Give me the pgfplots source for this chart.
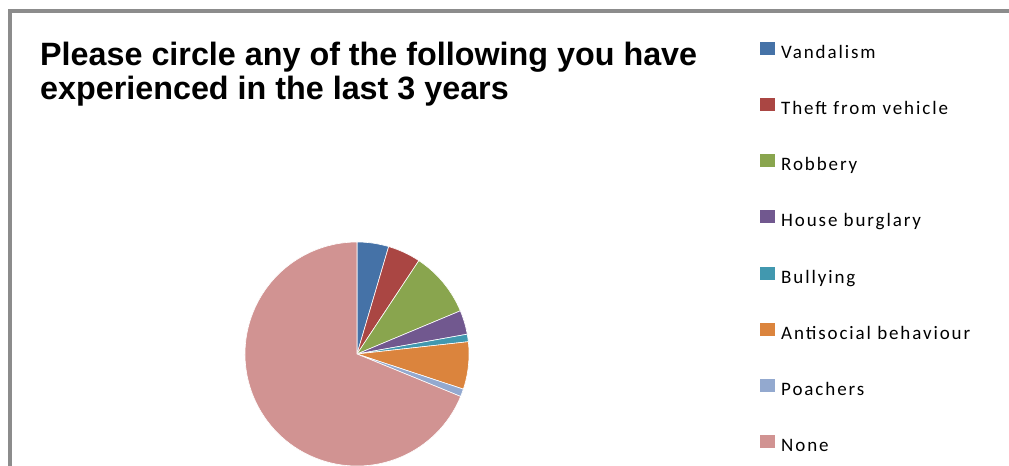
\documentclass[border=0pt]{standalone}
\usepackage{pgfplots}
\usepackage{pgfplotstable}
\pgfplotsset{compat=1.18}
\usepackage{fontspec}
\setmainfont{Liberation Sans}
\newfontfamily\legfont[LetterSpace=10]{Carlito}

\definecolor{cvan}{HTML}{4572A7}
\definecolor{ctheft}{HTML}{AA4643}
\definecolor{crob}{HTML}{89A54E}
\definecolor{chouse}{HTML}{71588F}
\definecolor{cbully}{HTML}{4198AF}
\definecolor{canti}{HTML}{DB843D}
\definecolor{cpoach}{HTML}{93A9CF}
\definecolor{cnone}{HTML}{D19392}
\definecolor{framegray}{HTML}{8C8C8C}

% share of answers, in percent, clockwise from 12 o'clock
\pgfplotstableread[col sep=comma]{
label,value,color
Vandalism,4.56,cvan
Theft from vehicle,4.75,ctheft
Robbery,9.39,crob
House burglary,3.47,chouse
Bullying,1.08,cbully
Antisocial behaviour,6.83,canti
Poachers,1.11,cpoach
None,68.81,cnone
}\piedata

\begin{document}
\begin{tikzpicture}
\begin{axis}[
    hide axis,
    scale only axis,
    width=1009bp, height=466bp,
    xmin=0, xmax=1009, ymin=0, ymax=466,
    legend image code/.code={\fill[#1, draw=none] (0bp,-0.5bp) rectangle (15bp,12.5bp);},
    legend cell align=left,
    legend style={
        at={(axis cs:760,424)}, anchor=north west,
        draw=none, fill=none, inner sep=0pt,
        column sep=6bp, row sep=35.6bp,
        nodes={inner sep=0pt, text height=12bp, text depth=4bp},
        font=\legfont\fontsize{19bp}{21bp}\selectfont,
    },
]
\fill[white] (axis cs:0,0) rectangle (axis cs:1009,466);

\pgfplotstablegetrowsof{\piedata}
\pgfmathtruncatemacro\lastrow{\pgfplotsretval-1}
\def\cum{0}
\pgfplotsforeachungrouped \i in {0,...,\lastrow}{
    \pgfplotstablegetelem{\i}{value}\of\piedata \let\val\pgfplotsretval
    \pgfplotstablegetelem{\i}{color}\of\piedata \let\col\pgfplotsretval
    \pgfplotstablegetelem{\i}{label}\of\piedata \let\lab\pgfplotsretval
    \pgfmathsetmacro\angA{90-3.6*\cum}
    \pgfmathsetmacro\angB{90-3.6*(\cum+\val)}
    \edef\temp{%
        \noexpand\filldraw[fill=\col, draw=white, line width=0.6bp]
        (axis cs:357,112) -- ++(\angA:112bp)
        arc[start angle=\angA, end angle=\angB, radius=112bp] -- cycle;
        \noexpand\addlegendimage{fill=\col}
        \noexpand\addlegendentry{\lab}
    }
    \temp
    \pgfmathsetmacro\cum{\cum+\val}
}

% chart frame (left and top edges only are visible)
\draw[framegray, line width=4bp] (axis cs:9.5,0) -- (axis cs:9.5,455) -- (axis cs:1009,455);

\node[anchor=base west, inner sep=0pt, font=\bfseries\fontsize{32.3bp}{38bp}\selectfont]
    at (axis cs:40,400) {Please circle any of the following you have};
\node[anchor=base west, inner sep=0pt, font=\bfseries\fontsize{32.3bp}{38bp}\selectfont]
    at (axis cs:40,366) {experienced in the last 3 years};
\end{axis}
\end{tikzpicture}
\end{document}
